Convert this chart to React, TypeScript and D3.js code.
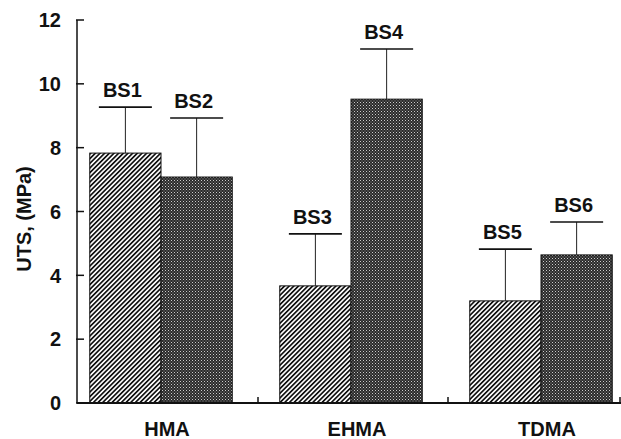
import React from "react";
import * as d3 from "d3";

const categories = ["HMA", "EHMA", "TDMA"];
const seriesKeys = ["a", "b"];
const valuesA = [7.83, 3.67, 3.2];
const valuesB = [7.08, 9.52, 4.64];
const errA = [1.44, 1.63, 1.62];
const errB = [1.85, 1.57, 1.03];
const labelsA = ["BS1", "BS3", "BS5"];
const labelsB = ["BS2", "BS4", "BS6"];
const yTicks = [0, 2, 4, 6, 8, 10, 12];

const W = 621;
const H = 439;
const FONT = "'Liberation Sans', Arial, Helvetica, sans-serif";

export default function App() {
  const y = d3.scaleLinear().domain([0, 12]).range([403, 20]);
  const x = d3
    .scaleBand<string>()
    .domain(categories)
    .range([66, 636])
    .paddingInner(0.25)
    .paddingOuter(0.125);
  const xs = d3.scaleBand<string>().domain(seriesKeys).range([0, x.bandwidth()]);
  const axisX = 77;
  const y0 = y(0);

  const bars = categories.flatMap((c, i) => [
    { c, key: "a", v: valuesA[i], e: errA[i], label: labelsA[i] },
    { c, key: "b", v: valuesB[i], e: errB[i], label: labelsB[i] },
  ]);

  const sepTicks = categories.slice(1).map((c) => (x(c)! - (x.step() - x.bandwidth()) / 2) + 2);
  sepTicks.push(620);

  return (
    <svg
      width={W}
      height={H}
      style={{ position: "absolute", left: 0, top: 0, display: "block", background: "#fff" }}
      fontFamily={FONT}
      fontWeight={700}
    >
      <defs>
        <pattern id="hatch" patternUnits="userSpaceOnUse" width="3.3" height="3.3" patternTransform="rotate(45)">
          <rect width="3.3" height="3.3" fill="#fff" />
          <rect x="0" y="0" width="1.7" height="3.3" fill="#111" />
        </pattern>
        <pattern id="dots" patternUnits="userSpaceOnUse" width="3" height="3">
          <rect width="3" height="3" fill="#2a2a2a" />
          <rect x="0" y="0" width="1" height="1" fill="#ccc" />
          <rect x="1.5" y="1.5" width="1" height="1" fill="#999" />
        </pattern>
      </defs>

      {bars.map((b, i) => {
        const bx = x(b.c)! + xs(b.key)!;
        const bw = xs.bandwidth();
        const cx = bx + bw / 2;
        const top = y(b.v);
        const capY = y(b.v + b.e);
        return (
          <g key={i}>
            <rect
              x={bx}
              y={top}
              width={bw}
              height={y0 - top}
              fill={b.key === "a" ? "url(#hatch)" : "url(#dots)"}
              stroke="#111"
              strokeWidth={1}
            />
            <line x1={cx} x2={cx} y1={top} y2={capY} stroke="#222" strokeWidth={1} />
            <line x1={cx - 26.5} x2={cx + 26.5} y1={capY} y2={capY} stroke="#111" strokeWidth={1.6} />
            <text x={cx - 3} y={capY - 10} textAnchor="middle" fontSize={20} fill="#111">
              {b.label}
            </text>
          </g>
        );
      })}

      {/* y axis */}
      <line x1={axisX} x2={axisX} y1={y(12)} y2={y0} stroke="#111" strokeWidth={1.5} />
      {yTicks.map((t) => (
        <g key={t}>
          <line x1={axisX - 1} x2={axisX + 7} y1={y(t)} y2={y(t)} stroke="#111" strokeWidth={1.5} />
          <text x={61} y={y(t)} dy="0.36em" textAnchor="end" fontSize={20} fill="#111">
            {t}
          </text>
        </g>
      ))}

      {/* x axis */}
      <line x1={axisX} x2={621} y1={y0} y2={y0} stroke="#111" strokeWidth={1.8} />
      {sepTicks.map((t, i) => (
        <line key={i} x1={t} x2={t} y1={y0} y2={y0 - 6} stroke="#111" strokeWidth={1.5} />
      ))}
      {categories.map((c) => (
        <text key={c} x={x(c)! + x.bandwidth() / 2 + 6} y={436} textAnchor="middle" fontSize={20} fill="#111">
          {c}
        </text>
      ))}

      <text
        transform={`translate(31, 219) rotate(-90)`}
        textAnchor="middle"
        fontSize={20}
        fill="#111"
      >
        UTS, (MPa)
      </text>
    </svg>
  );
}
